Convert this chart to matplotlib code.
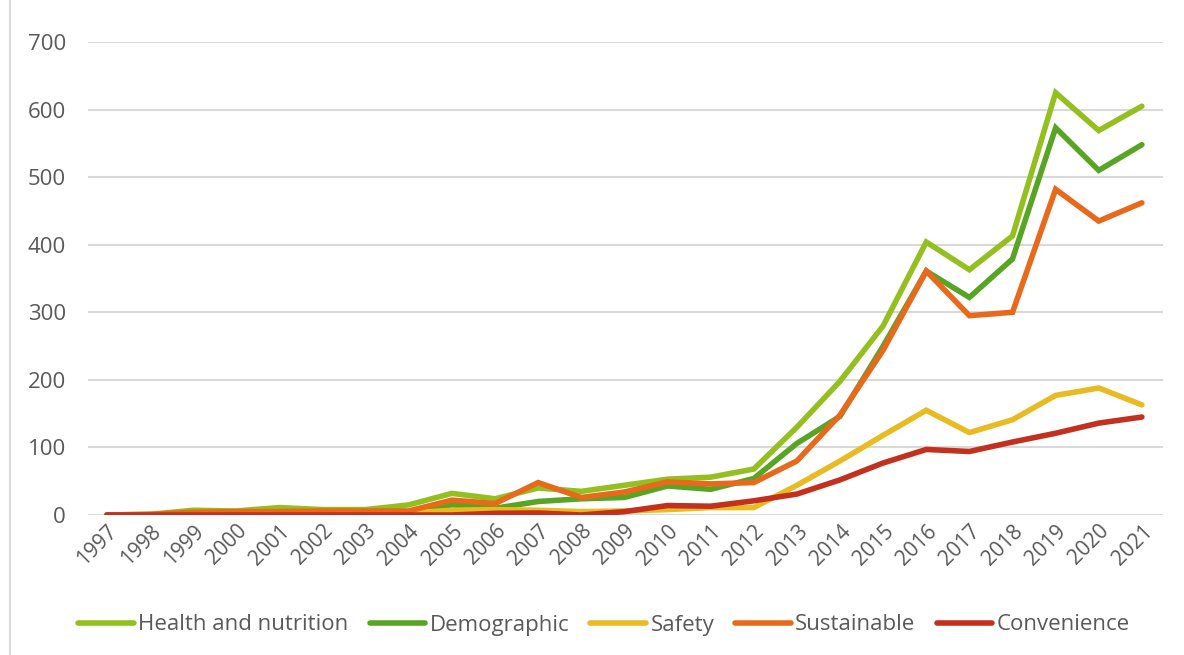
import matplotlib
matplotlib.use("Agg")
import matplotlib.pyplot as plt
from matplotlib.lines import Line2D

years = list(range(1997, 2022))

health = [0, 1, 7, 6, 11, 8, 8, 15, 32, 24, 40, 35, 44, 53, 56, 68,
          130, 198, 280, 404, 363, 413, 625, 569, 605]
demographic = [0, 0, 2, 2, 3, 3, 3, 4, 15, 10, 20, 24, 26, 43, 38, 54,
               106, 146, 250, 361, 322, 379, 573, 510, 548]
safety = [0, 0, 1, 1, 2, 2, 2, 3, 7, 8, 7, 5, 6, 8, 11, 11,
          44, 80, 118, 155, 122, 141, 177, 188, 163]
sustainable = [0, 1, 4, 5, 5, 6, 6, 6, 22, 17, 48, 26, 34, 49, 46, 48,
               80, 148, 244, 361, 295, 300, 482, 435, 462]
convenience = [0, 0, 0, 0, 0, 0, 0, 0, 0, 2.5, 3, 0, 5, 14, 13, 21,
               31, 52, 77, 97, 94, 108, 121, 136, 145]

series_names = ["Health and nutrition", "Demographic", "Safety",
                "Sustainable", "Convenience"]
series_values = [health, demographic, safety, sustainable, convenience]
colors = ["#93C01F", "#58A524", "#E9BB22", "#E8691B", "#C3301D"]

plt.rcParams['font.family'] = ['Open Sans', 'DejaVu Sans']
text_color = "#595959"

fig = plt.figure(figsize=(11.84, 6.55), dpi=100)
ax = fig.add_axes([88/1184, 1-515/655, (1163-88)/1184, (515-42)/655])

for name, vals, c in zip(series_names, series_values, colors):
    ax.plot(years, vals, color=c, lw=4, label=name,
            solid_capstyle='round', solid_joinstyle='miter', zorder=3)

ax.set_ylim(0, 700)
ax.set_xlim(1997 - 0.44, 2021 + 0.49)
ax.set_yticks(range(0, 701, 100))
ax.set_xticks(years)
ax.set_xticklabels([str(y) for y in years], rotation=45, ha='right',
                   rotation_mode='anchor', fontsize=15, color=text_color)
ax.tick_params(axis='y', labelsize=16, colors=text_color, length=0, pad=16)
ax.tick_params(axis='x', length=0, pad=4)
ax.grid(axis='y', color="#D9D9D9", lw=1.5, zorder=0)
for s in ax.spines.values():
    s.set_visible(False)

handles = [Line2D([0], [0], color=c, lw=4, solid_capstyle='round')
           for c in colors]
leg = fig.legend(handles, series_names, loc='center',
                 bbox_to_anchor=(604/1184, 1-625/655), ncol=5, frameon=False,
                 fontsize=16, handlelength=2.5, handletextpad=0.2,
                 columnspacing=0.95)
for t in leg.get_texts():
    t.set_color(text_color)

fig.add_artist(Line2D([10/1184, 10/1184], [0, 1], transform=fig.transFigure,
                      color="#D9D9D9", lw=1.5))

fig.savefig("out.png", dpi=100)
